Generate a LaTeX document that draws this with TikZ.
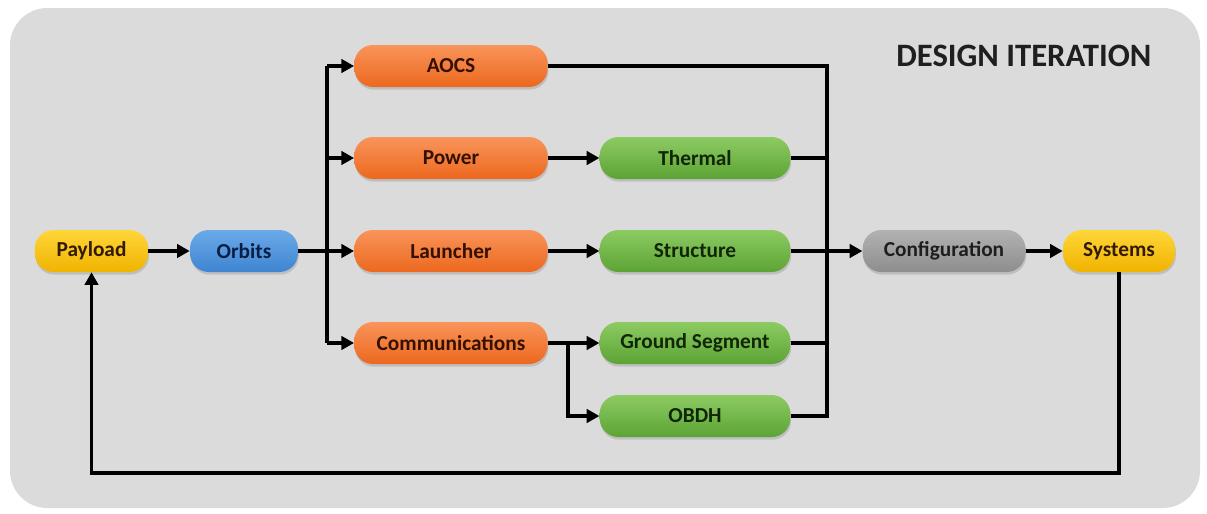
\documentclass[tikz,border=0pt]{standalone}
\usepackage{fontspec}
\setmainfont{Carlito}
\usetikzlibrary{shadows,arrows.meta}

\definecolor{panel}{HTML}{DBDBDB}
\definecolor{orTop}{HTML}{F9945A}\definecolor{orBot}{HTML}{EC681E}\definecolor{orTxt}{HTML}{331000}
\definecolor{grTop}{HTML}{8CCB62}\definecolor{grBot}{HTML}{5CA335}\definecolor{grTxt}{HTML}{112606}
\definecolor{blTop}{HTML}{6AAAE8}\definecolor{blBot}{HTML}{3E84D0}\definecolor{blTxt}{HTML}{081E45}
\definecolor{ylTop}{HTML}{FFD63A}\definecolor{ylBot}{HTML}{F0B300}\definecolor{ylTxt}{HTML}{331A00}
\definecolor{gyTop}{HTML}{B2B2B2}\definecolor{gyBot}{HTML}{8D8D8D}\definecolor{gyTxt}{HTML}{1E1E1E}

\tikzset{
  pill/.style={rectangle, rounded corners=14pt, minimum height=31.5pt, inner sep=0pt,
    font=\bfseries\fontsize{16}{18}\selectfont,
    drop shadow={shadow xshift=0.6pt, shadow yshift=-2pt, opacity=0.3}},
  orangebox/.style={pill, top color=orTop, bottom color=orBot, text=orTxt, minimum width=145pt},
  greenbox/.style={pill, top color=grTop, bottom color=grBot, text=grTxt, minimum width=143pt},
  bluebox/.style={pill, top color=blTop, bottom color=blBot, text=blTxt, minimum width=81pt},
  yellowbox/.style={pill, top color=ylTop, bottom color=ylBot, text=ylTxt},
  graybox/.style={pill, top color=gyTop, bottom color=gyBot, text=gyTxt, minimum width=122pt},
  wire/.style={draw=black, line width=2.6pt, line join=miter},
  flow/.style={wire, -{Triangle[length=9.5pt,width=10pt]}},
}

\begin{document}
\begin{tikzpicture}[x=0.75pt, y=-0.75pt]
  % page and rounded panel
  \useasboundingbox (0,0) rectangle (1207,514);
  \fill[white] (0,0) rectangle (1207,514);
  \path[fill=panel, rounded corners=28pt] (10,8) rectangle (1200,508);

  \node[anchor=east, font=\bfseries\fontsize{24.5}{28}\selectfont, text=black!88] (title) at (1156,56) {DESIGN ITERATION};

  % nodes
  \node[yellowbox, minimum width=85pt] (payload) at (91.5,251) {Payload};
  \node[bluebox] (orbits) at (244,251) {Orbits};
  \node[orangebox] (aocs) at (451,66) {AOCS};
  \node[orangebox] (power) at (451,158) {Power};
  \node[orangebox] (launcher) at (451,251) {Launcher};
  \node[orangebox] (comms) at (451,343) {Communications};
  \node[greenbox] (thermal) at (695,158) {Thermal};
  \node[greenbox] (structure) at (695,251) {Structure};
  \node[greenbox] (ground) at (695,343) {Ground Segment};
  \node[greenbox] (obdh) at (695,416) {OBDH};
  \node[graybox] (config) at (944,251) {Configuration};
  \node[yellowbox, minimum width=84pt] (systems) at (1119,251) {Systems};

  % bus lines and the feedback level
  \coordinate (lbus) at (327,0);
  \coordinate (split) at (568,0);
  \coordinate (rbus) at (827,0);
  \coordinate (fb) at (0,473);

  % fan-out from Orbits
  \draw[flow] (payload) -- (orbits);
  \draw[wire] (lbus |- aocs) -- (lbus |- comms);
  \draw[flow] (orbits) -- (launcher);
  \draw[flow] (lbus |- aocs) -- (aocs);
  \draw[flow] (lbus |- power) -- (power);
  \draw[flow] (lbus |- comms) -- (comms);

  % second stage
  \draw[flow] (power) -- (thermal);
  \draw[flow] (launcher) -- (structure);
  \draw[flow] (comms) -- (ground);
  \draw[flow] (split |- comms) -- (split |- obdh) -- (obdh);

  % merge into Configuration
  \draw[wire] (aocs.east) -- (rbus |- aocs) -- (rbus |- obdh) -- (obdh.east);
  \draw[wire] (thermal) -- (rbus |- thermal);
  \draw[wire] (ground) -- (rbus |- ground);
  \draw[flow] (structure) -- (config);
  \draw[flow] (config) -- (systems);

  % iteration loop back to Payload
  \draw[flow] (systems.south) -- (systems.south |- fb) -- (payload.south |- fb) -- (payload.south);
\end{tikzpicture}
\end{document}
